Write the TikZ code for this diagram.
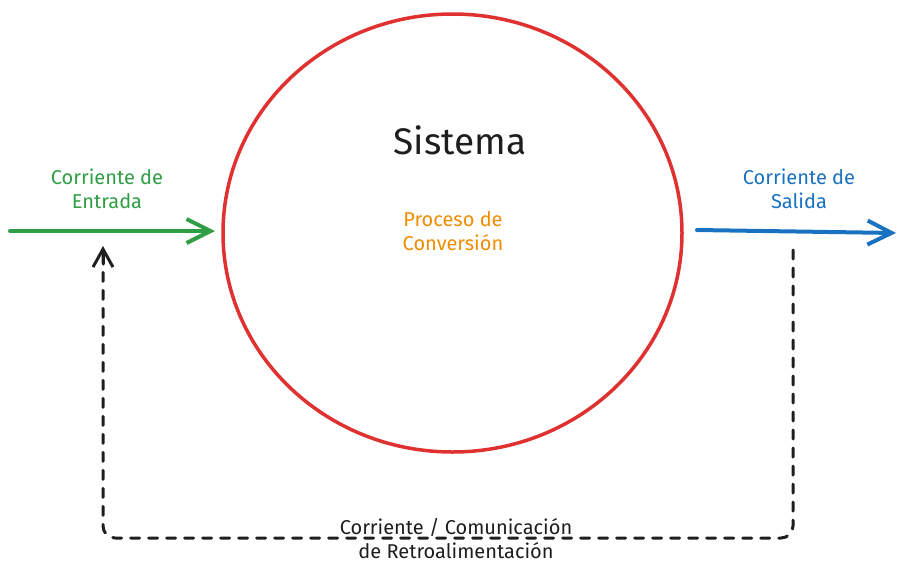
\documentclass[tikz,border=0pt]{standalone}
\usepackage{fontspec}
\setmainfont{Fira Sans}
\usetikzlibrary{arrows.meta,shapes.geometric}
\definecolor{cgreen}{HTML}{2F9E44}
\definecolor{cblue}{HTML}{1971C2}
\definecolor{corange}{HTML}{F08C00}
\definecolor{cred}{HTML}{E03131}
\definecolor{cdark}{HTML}{1E1E1E}
\begin{document}
\begin{tikzpicture}[x=1pt,y=-1pt,
  flow/.style={line width=4pt,line cap=round,-{Straight Barb[length=24pt,width=24pt,line width=4pt]}},
  fb/.style={draw=cdark,line width=3pt,dash pattern=on 9pt off 9pt,line cap=round,rounded corners=12pt},
  lbl/.style={align=center,font=\fontsize{20}{24}\selectfont,inner sep=0pt}]
\useasboundingbox (0,0) rectangle (905,574);
\node[draw=cred,line width=3.5pt,ellipse,minimum width=459pt,minimum height=438pt,inner sep=0pt] (sys) at (452.5,233) {};
\node[font=\fontsize{37}{44}\selectfont,text=cdark] (title) at (460,140) {Sistema};
\node[lbl,text=corange] (proc) at (453,231) {Proceso de\\Conversión};
\coordinate (inS) at (10,231);
\coordinate (inE) at (215,231);
\draw[flow,draw=cgreen] (inS) -- (inE);
\node[lbl,text=cgreen] (inL) at (107,189) {Corriente de\\Entrada};
\coordinate (outS) at (697,230);
\coordinate (outE) at (896,233);
\draw[flow,draw=cblue] (outS) -- (outE);
\node[lbl,text=cblue] (outL) at (799,189) {Corriente de\\Salida};
\coordinate (f1) at (793,250);
\coordinate (f2) at (793,538);
\coordinate (f3) at (103,538);
\coordinate (f4) at (103,246);
\draw[fb] (f1) -- (f2) -- (f3) -- (f4);
\draw[draw=cdark,line width=3pt,line cap=round,line join=round,-{Straight Barb[length=18pt,width=20pt,line width=3pt]}] (103,264) -- (f4);
\node[lbl,text=cdark] (fbL) at (456,539) {Corriente / Comunicación\\de Retroalimentación};
\end{tikzpicture}
\end{document}
